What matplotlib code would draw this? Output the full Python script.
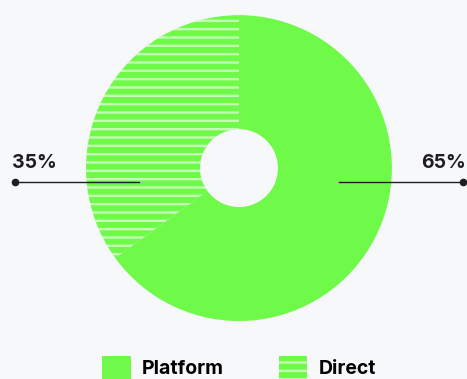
import matplotlib.pyplot as plt
from matplotlib.lines import Line2D

channels = ["Platform", "Direct"]
shares = [65, 35]
share_labels = ["65%", "35%"]

GREEN = "#6FFA4A"
BG = "#F7F8FA"
INK = "#1E1E22"

plt.rcParams["font.family"] = ["Inter", "DejaVu Sans"]
plt.rcParams["hatch.linewidth"] = 1.7

fig = plt.figure(figsize=(4.67, 3.79), dpi=100, facecolor=BG)
ax = fig.add_axes([0.1842, 0.153, 0.655, 0.807])
ax.set_facecolor(BG)

wedges, _ = ax.pie(
    shares,
    startangle=90,
    counterclock=False,
    radius=1.0,
    colors=[GREEN, GREEN],
    wedgeprops=dict(width=1 - 39 / 153, linewidth=0),
)
wedges[1].set_hatch("--")
wedges[1].set_edgecolor((1, 1, 1, 0.6))
wedges[1].set_linewidth(0)

ax.set_xlim(-1, 1)
ax.set_ylim(-1, 1)
ax.set_aspect("equal")
ax.axis("off")

# leader lines with a dot on the outer end
line_y = -0.092
for label, side in zip(share_labels, [1, -1]):
    ax.add_line(Line2D([side * 0.655, side * 1.462], [line_y, line_y],
                       color=INK, lw=1.0, clip_on=False))
    ax.plot([side * 1.462], [line_y], "o", color=INK, ms=4.5, clip_on=False)
    ax.text(side * 1.485, 0.0, label, ha="right" if side > 0 else "left",
            va="baseline", fontsize=14, fontweight="bold", color=INK,
            clip_on=False)

fig.legend(
    wedges, channels,
    loc="center", bbox_to_anchor=(0.512, 0.03), ncol=2, frameon=False,
    prop=dict(weight="bold", size=14),
    handlelength=1.45, handleheight=1.45, handletextpad=0.6, columnspacing=2.8,
)

fig.savefig("out.png", dpi=100, facecolor=BG)
